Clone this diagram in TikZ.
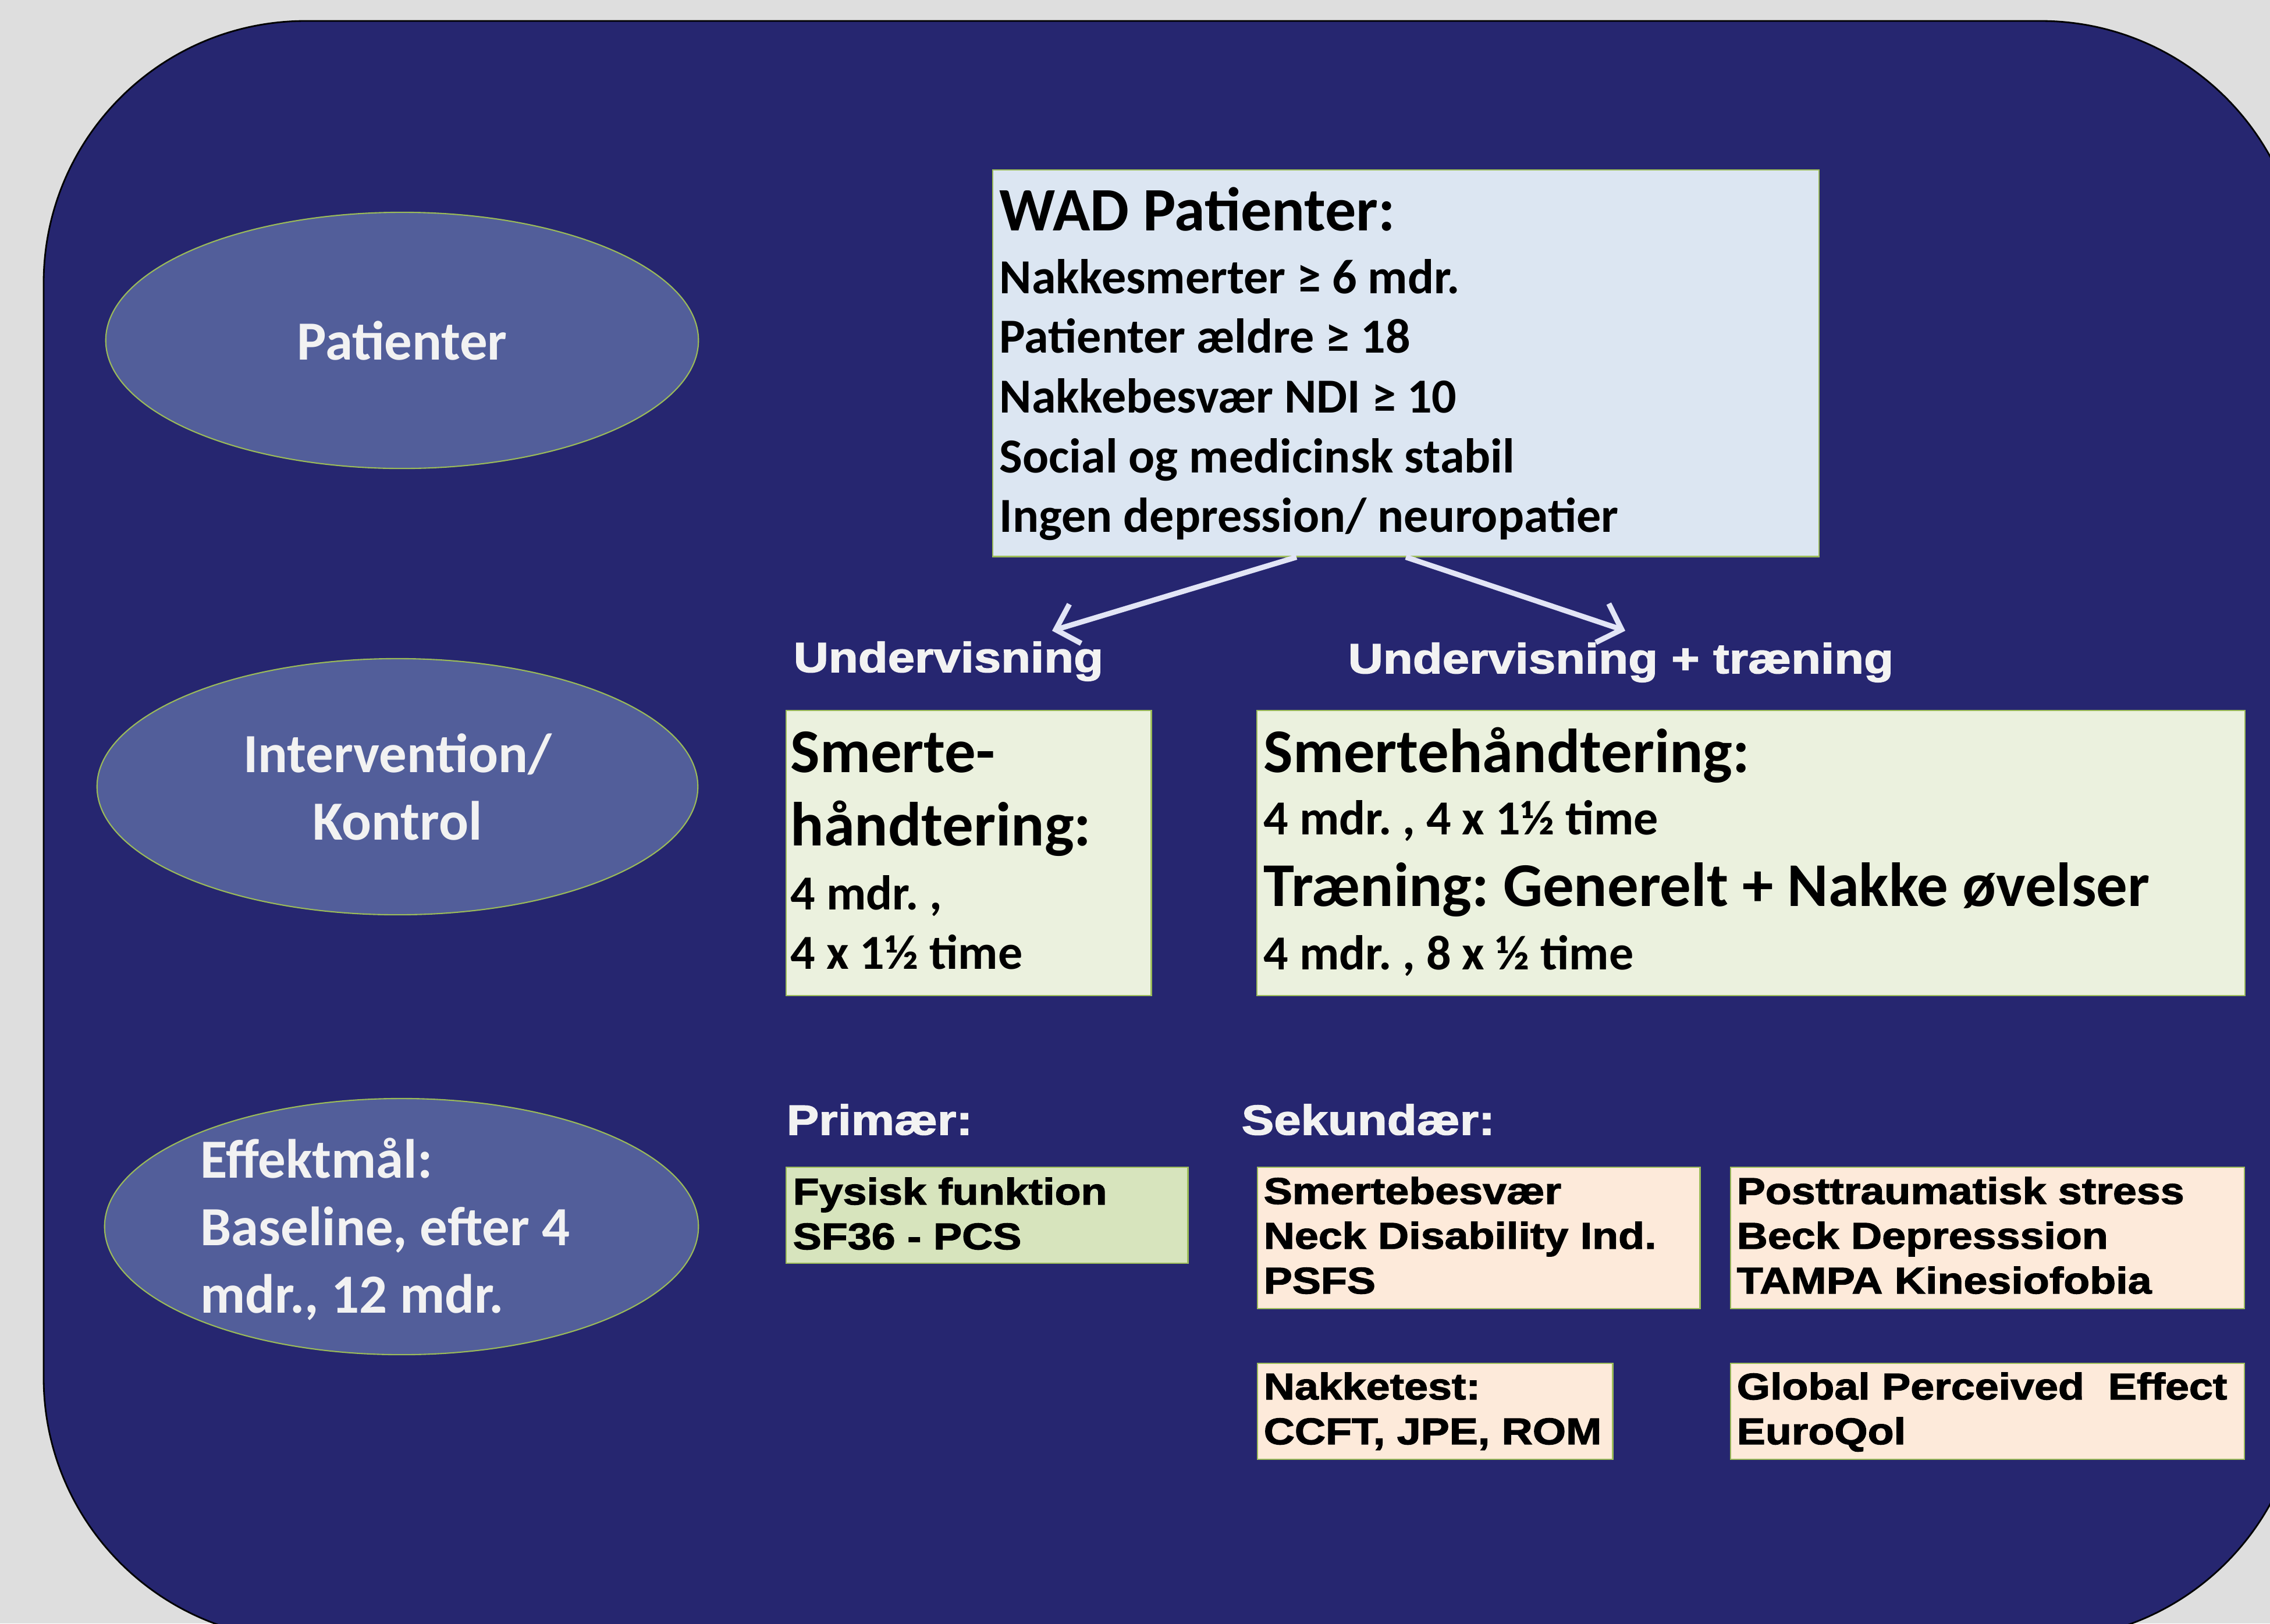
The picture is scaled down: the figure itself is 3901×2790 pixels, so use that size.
\documentclass[tikz,border=0pt]{standalone}
\usepackage{fontspec}
\setmainfont{Carlito}
\newfontfamily\blk{Liberation Sans}[FakeStretch=1.15, FakeBold=2]
\usetikzlibrary{shapes.geometric, arrows.meta, calc}
\definecolor{bgray}{RGB}{222,222,222}
\definecolor{navy}{RGB}{38,38,112}
\definecolor{ellfill}{RGB}{82,94,154}
\definecolor{olivec}{RGB}{155,187,89}
\definecolor{wadfill}{RGB}{220,230,242}
\definecolor{intfill}{RGB}{235,241,222}
\definecolor{primfill}{RGB}{215,228,189}
\definecolor{sekfill}{RGB}{253,234,218}
\definecolor{headw}{RGB}{242,242,242}
\definecolor{arrowc}{RGB}{226,229,246}
\frenchspacing
\begin{document}
\begin{tikzpicture}[x=0.01cm, y=-0.01cm,
 oval/.style={ellipse, draw=olivec, line width=0.6pt, fill=ellfill, text=headw,
   font=\bfseries\fontsize{27pt}{33pt}\selectfont, align=center, inner sep=0pt,
   minimum height=4.4cm},
 panel/.style={rectangle, draw=olivec, line width=0.6pt, inner sep=0pt, anchor=north west},
 txt/.style={anchor=base west, inner sep=0pt, text=black},
 bigtxt/.style={txt, font=\bfseries\fontsize{30.4pt}{36.1pt}\selectfont},
 bodytxt/.style={txt, font=\bfseries\fontsize{23.9pt}{29.2pt}\selectfont},
 boxtxt/.style={txt, font=\blk\bfseries\fontsize{18.2pt}{21.9pt}\selectfont},
 hd/.style={anchor=base west, inner sep=0pt, text=headw, font=\blk\bfseries\fontsize{20.6pt}{24pt}\selectfont},
 flow/.style={draw=arrowc, line width=2.6pt, -{Straight Barb[length=10pt,width=20pt]}}
]
\useasboundingbox (0,0) rectangle (3901,2790);
\fill[bgray] (0,0) rectangle (3901,2790);
\begin{scope}
\clip (0,0) rectangle (3901,2790);
\draw[fill=navy, draw=black, line width=0.8pt, rounded corners=4.5cm] (75,36) rectangle (3957,2818);
\end{scope}

% left ellipses
\node[oval, minimum width=10.18cm] (pat) at (691,585) {Patienter};
\node[oval, minimum width=10.32cm] (int) at (683,1352) {Intervention/\\Kontrol};
\node[oval, minimum width=10.2cm] (eff) at (690,2108) {};
\node[anchor=base west, inner sep=0pt, text=headw, font=\bfseries\fontsize{27pt}{33pt}\selectfont] (efftxt) at (344,2024)
  {\parbox[t]{9cm}{\raggedright Effektmål:\\Baseline, efter 4\\mdr., 12 mdr.}};

% WAD box
\node[panel, fill=wadfill, minimum width=14.19cm, minimum height=6.64cm] (wad) at (1705,291) {};
\node[txt, font=\bfseries\fontsize{30.2pt}{36pt}\selectfont] (wadtitle) at (1717,396) {WAD Patienter:};
\node[bodytxt] (wadbody) at (1717,504) {\parbox[t]{14cm}{\raggedright
  Nakkesmerter ≥ 6 mdr.\\
  Patienter ældre ≥ 18\\
  Nakkebesvær NDI ≥ 10\\
  Social og medicinsk stabil\\
  Ingen depression/ neuropatier}};

% arrows
\coordinate (tipL) at (1808,1084);
\coordinate (tipR) at (2793,1084);
\draw[flow] ($(wad.south)+(-188,0)$) -- (tipL);
\draw[flow] (wad.south) -- (tipR);

% group labels
\node[hd] (lblU) at (1363,1155) {Undervisning};
\node[hd] (lblUT) at (2316,1157) {Undervisning + træning};

% intervention boxes
\node[panel, fill=intfill, minimum width=6.27cm, minimum height=4.9cm] (int1) at (1350,1220) {};
\node[panel, fill=intfill, minimum width=16.97cm, minimum height=4.9cm] (int2) at (2159,1220) {};
\node[bigtxt] (int1h) at (1358,1327) {\parbox[t]{6cm}{\raggedright Smerte-\\håndtering:}};
\node[bodytxt] (int1b) at (1358,1563) {\parbox[t]{6cm}{\raggedright 4 mdr. ,\\4 x 1½ time}};
\node[bigtxt] (int2h) at (2171,1327) {Smertehåndtering:};
\node[bodytxt] (int2b) at (2171,1434) {4 mdr. , 4 x 1½ time};
\node[bigtxt] (int2h2) at (2171,1557) {Træning: Generelt + Nakke øvelser};
\node[bodytxt] (int2b2) at (2171,1666) {4 mdr. , 8 x ½ time};

% outcome labels
\node[hd] (lblP) at (1351,1950) {Primær:};
\node[hd] (lblS) at (2133,1950) {Sekundær:};

% outcome boxes
\node[panel, fill=primfill, minimum width=6.9cm, minimum height=1.65cm] (prim) at (1350,2005) {};
\node[panel, fill=sekfill, minimum width=7.6cm, minimum height=2.43cm] (sek1) at (2160,2005) {};
\node[panel, fill=sekfill, minimum width=8.82cm, minimum height=2.43cm] (sek2) at (2973,2005) {};
\node[panel, fill=sekfill, minimum width=6.1cm, minimum height=1.65cm] (sek3) at (2160,2342) {};
\node[panel, fill=sekfill, minimum width=8.82cm, minimum height=1.65cm] (sek4) at (2973,2342) {};

\node[boxtxt] (primt) at (1362,2070) {\parbox[t]{6.8cm}{\raggedright Fysisk funktion\\SF36 - PCS}};
\node[boxtxt] (sek1t) at (2171,2069) {\parbox[t]{7.5cm}{\raggedright Smertebesvær\\Neck Disability Ind.\\PSFS}};
\node[boxtxt] (sek2t) at (2984,2069) {\parbox[t]{8.7cm}{\raggedright Posttraumatisk stress\\Beck Depresssion\\TAMPA Kinesiofobia}};
\node[boxtxt] (sek3t) at (2171,2405) {\parbox[t]{6cm}{\raggedright Nakketest:\\CCFT, JPE, ROM}};
\node[boxtxt] (sek4t) at (2984,2405) {\parbox[t]{8.7cm}{\raggedright Global Perceived\ \ Effect\\EuroQol}};
\end{tikzpicture}
\end{document}
